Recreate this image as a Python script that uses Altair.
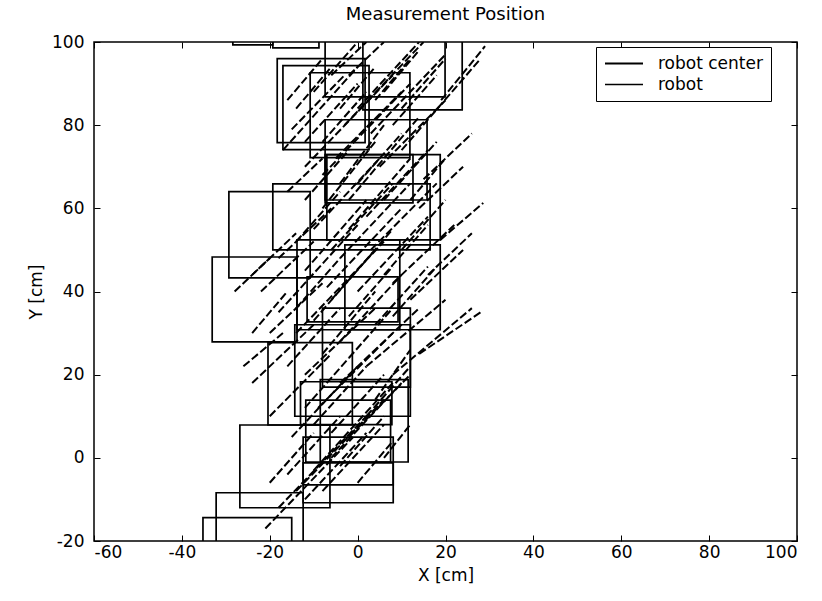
import altair as alt
import pandas as pd

# Robot outlines (rectangles) in cm
rect_x0 = [-28.4, -19.3, -18.3, -17.0, -10.8, -7.4, 1.2, -7.4, -7.0, -7.4, -29.3, -19.3, -33.1, -13.8,
           -2.9, -11.5, -8.0, -14.3, -20.4, -13.0, -8.5, -11.8, -26.8, -12.4, -12.4, -32.2, -35.2]
rect_x1 = [-19.3, -8.8, 1.7, 2.6, 11.9, 19.9, 23.8, 15.8, 18.8, 12.6, -10.8, 16.5, -13.8, 9.6,
           18.8, 9.2, 12.0, 12.0, -1.2, 7.8, 11.5, 7.5, -6.3, 8.1, 8.1, -12.4, -15.0]
rect_y0 = [99.3, 98.6, 75.8, 74.1, 72.2, 86.8, 83.7, 62.0, 52.4, 61.3, 43.3, 50.0, 27.9, 30.8,
           30.8, 32.7, 17.0, 10.0, 7.9, 8.0, -1.0, -1.0, -12.0, -10.8, -6.5, -24.0, -24.0]
rect_y1 = [106, 106, 96.0, 94.3, 92.6, 106, 106, 81.3, 72.9, 72.9, 64.0, 65.9, 48.3, 52.4,
           51.2, 43.5, 36.0, 32.0, 27.7, 18.3, 18.8, 13.9, 7.9, -1.2, 5.0, -8.4, -14.4]

# Robot center tracks (diagonal segments) in cm
seg_x1 = [-17, -15, -12, -8, -5, -3, 0, 3, -2, 5, 10, 19, -10, -6, 15, 14,
          -22, -18, -14, -10, -7, -4, 0, 3, 18.8, 8, 12, -12, -20,
          -21, -18, -14, -10, -6, -2, -15, -20, -24, -9, -4, 2, 8, 14, -26, -12,
          -10, -6, -2, 2, 6, -8, -12, -4, 4, 8, -14, -16, -2, -8, -4, 4, -16, -10,
          -6, 2, -16, -12, -8, -20, 6, -18, -24, 6, 10, -2,
          -16, -12, -8, 6, 10, -4, 12, 0, -14, -6, 8, -14, -2, 4, -12, -4, 0, -24, -28, 16]
seg_y1 = [74, 79, 70, 68, 72, 80, 84, 78, 62, 70, 74, 86, 88, 92, 67, 60,
          40, 35, 30, 33, 41, 48, 40, 50, 52.4, 42, 38, 45, 30,
          -17, -12, -8, -3, 0, 5, 5, 10, 18, 12, 18, 22, 20, 25, 22, 20,
          55, 50, 55, 58, 62, 60, 62, 66, 86, 80, 84, 64, 92, 25, 28, 32, 22, 8,
          6, 10, -4, -10, -8, -6, 0, 48, 44, 44, 50, 34,
          86, 76, 76, 88, 84, 84, 62, 66, 52, 38, 34, 36, 24, 14, 12, -2, -6, 30, 40, 44]
seg_x2 = [0, -3, 8, 12, 10, 15, 14, 20, 14, 20, 28, 29, 0, 2, 26, 24,
          -10, 0, 6, 8, 10, 12, 16, 18, 28.6, 22, 24, 2, -8,
          -1, 2, 6, 8, 10, 12, 0, -6, -10, 8, 14, 20, 26, 28, -17, 4,
          5, 8, 12, 16, 18, 4, -2, 6, 12, 18, -6, -8, 6, 4, 10, 16, -4, 2,
          6, 12, -4, 2, 6, -10, 12, -6, -14, 16, 20, 8,
          -8, 0, 2, 14, 20, 4, 20, 10, -4, 4, 18, -4, 8, 12, -2, 6, 8, -16, -20, 26]
seg_y2 = [94, 92, 92, 90, 88, 100, 100, 97, 82, 86, 96, 99, 100, 100, 78, 70,
          52, 56, 52, 55, 60, 66, 58, 66, 61.3, 56, 50, 62, 42,
          5, 10, 14, 18, 18, 20, 22, 25, 32, 30, 36, 38, 36, 35, 30, 36,
          72, 66, 72, 74, 76, 76, 74, 80, 96, 92, 94, 72, 100, 40, 44, 46, 36, 22,
          20, 22, 10, 6, 8, 6, 8, 60, 54, 56, 62, 46,
          96, 90, 88, 98, 96, 94, 72, 78, 64, 50, 46, 48, 36, 26, 24, 10, 4, 40, 48, 54]

legend_labels = ["robot center", "robot"]

rects = pd.DataFrame({"x0": rect_x0, "x1": rect_x1, "y0": rect_y0, "y1": rect_y1,
                      "kind": ["robot"] * len(rect_x0)})
segs = pd.DataFrame({"x0": seg_x1, "y0": seg_y1, "x1": seg_x2, "y1": seg_y2,
                     "kind": ["robot center"] * len(seg_x1)})

FONT = "DejaVu Sans"
xscale = alt.Scale(domain=[-60, 100], nice=False, zero=False)
yscale = alt.Scale(domain=[-20, 100], nice=False, zero=False)
ticks_x = list(range(-60, 101, 20))
ticks_y = list(range(-20, 101, 20))

sw = alt.StrokeWidth(
    "kind:N",
    scale=alt.Scale(domain=legend_labels, range=[2.0, 1.7]),
    legend=alt.Legend(
        title=None, orient="none", legendX=502, legendY=5,
        symbolType="stroke", symbolSize=1444, symbolStrokeColor="black",
        clipHeight=17, labelFontSize=17, labelFont=FONT, labelOffset=14, labelColor="black",
        strokeColor="black", fillColor="white", padding=8, rowPadding=3,
    ),
)

axis_common = dict(offset=-6, tickSize=6, domain=False, grid=False, tickColor="black",
                   labelColor="black", titleColor="black", labelFont=FONT, labelFontSize=17,
                   titleFont=FONT, titleFontSize=17, titleFontWeight="normal")

rect_layer = alt.Chart(rects).mark_rect(filled=False, stroke="black", clip=True).encode(
    x=alt.X("x0:Q", scale=xscale,
            axis=alt.Axis(values=ticks_x, labelPadding=3, title="X [cm]",
                          labelExpr="datum.value + ''", titlePadding=7, **axis_common)),
    x2="x1:Q",
    y=alt.Y("y0:Q", scale=yscale,
            axis=alt.Axis(values=ticks_y, labelPadding=10, title="Y [cm]",
                          labelExpr="datum.value + ''", titlePadding=6, **axis_common)),
    y2="y1:Q",
    strokeWidth=sw,
)

seg_layer = alt.Chart(segs).mark_rule(color="black", strokeDash=[8, 3], clip=True).encode(
    x=alt.X("x0:Q", scale=xscale,
            axis=alt.Axis(orient="top", values=ticks_x, labels=False, title=None, **axis_common)),
    x2="x1:Q",
    y=alt.Y("y0:Q", scale=yscale,
            axis=alt.Axis(orient="right", values=ticks_y, labels=False, title=None, **axis_common)),
    y2="y1:Q",
    strokeWidth=sw,
)

chart = alt.layer(rect_layer, seg_layer).resolve_axis(x="independent", y="independent").properties(
    width=703, height=499,
    background="white",
    title=alt.TitleParams("Measurement Position", fontSize=18, font=FONT, fontWeight="normal",
                          color="black", offset=9),
    autosize=alt.AutoSizeParams(type="none"),
    padding={"left": 94, "top": 42, "right": 25, "bottom": 60},
).configure_view(stroke="black", strokeWidth=1.5)

chart.save("out.html", embed_options={"renderer": "svg", "actions": False})
